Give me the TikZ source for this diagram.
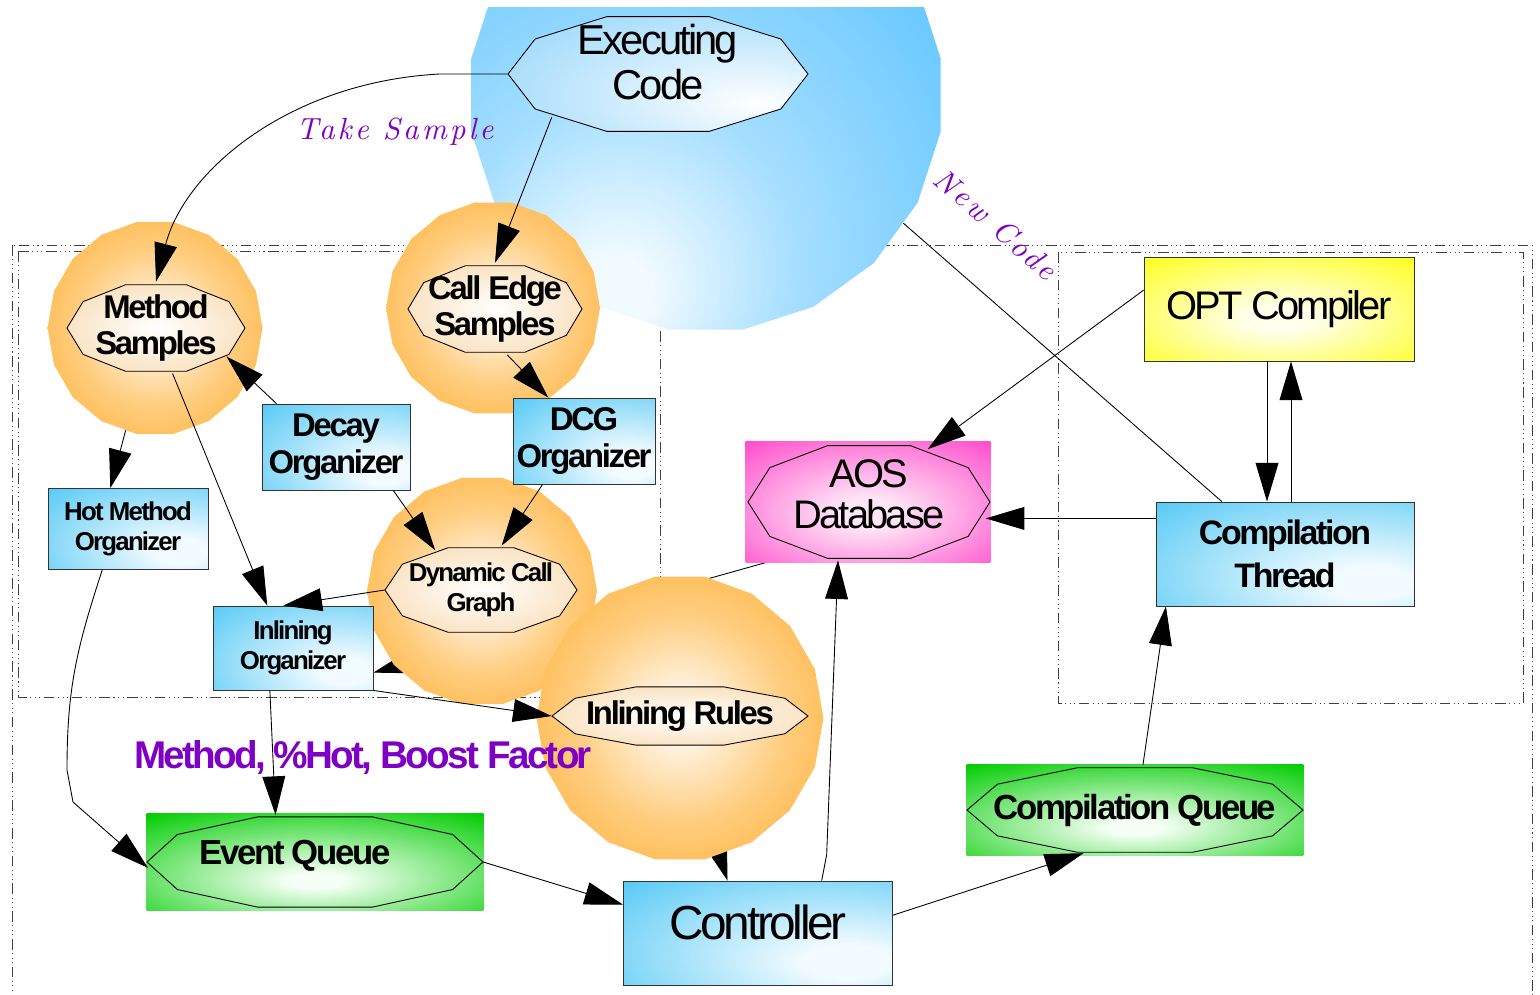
\documentclass[tikz,border=0pt]{standalone}
\usepackage{fontspec}
\setmainfont{Liberation Sans}
\newfontfamily\tightsans{Liberation Sans}[LetterSpace=-7]
\newfontfamily\scriptit{lmroman10-italic.otf}[LetterSpace=10]
\usetikzlibrary{shapes.geometric,arrows.meta,calc,backgrounds}

\definecolor{orbedge}{RGB}{255,172,44}
\definecolor{orbmid}{RGB}{255,206,130}
\definecolor{orbcore}{RGB}{255,242,224}
\definecolor{ovaltan}{RGB}{246,206,150}
\definecolor{skyedge}{RGB}{92,196,255}
\definecolor{skymid}{RGB}{165,222,255}
\definecolor{skycore}{RGB}{240,250,255}
\definecolor{skyoval}{RGB}{140,210,250}
\definecolor{boxedge}{RGB}{40,186,242}
\definecolor{boxcore}{RGB}{242,251,255}
\definecolor{aosedge}{RGB}{255,64,200}
\definecolor{aoscore}{RGB}{255,230,247}
\definecolor{queueedge}{RGB}{0,204,0}
\definecolor{queuecore}{RGB}{245,255,245}
\definecolor{optedge}{RGB}{255,255,0}
\definecolor{optcore}{RGB}{255,255,236}
\definecolor{notepurple}{RGB}{126,0,196}

% radial fills
\pgfdeclareradialshading{orangeorb}{\pgfpointorigin}{color(0bp)=(orbcore); color(5bp)=(orbcore); color(18bp)=(orbmid); color(36bp)=(orbedge); color(100bp)=(orbedge)}
\pgfdeclareradialshading{skyorb}{\pgfpoint{-10bp}{-22bp}}{color(0bp)=(skycore); color(4bp)=(skycore); color(18bp)=(skymid); color(42bp)=(skyedge); color(100bp)=(skyedge)}
\pgfdeclareradialshading{tanoval}{\pgfpointorigin}{color(0bp)=(white); color(45bp)=(ovaltan); color(100bp)=(ovaltan)}
\pgfdeclareradialshading{skyovalfill}{\pgfpoint{17bp}{-13bp}}{color(0bp)=(white); color(50bp)=(skyoval); color(100bp)=(skyoval)}
\pgfdeclareradialshading{bluebox}{\pgfpoint{18bp}{-15bp}}{color(0bp)=(boxcore); color(8bp)=(boxcore); color(60bp)=(boxedge); color(100bp)=(boxedge)}
\pgfdeclareradialshading{pinkbox}{\pgfpoint{0bp}{-5bp}}{color(0bp)=(aoscore); color(6bp)=(aoscore); color(40bp)=(aosedge); color(100bp)=(aosedge)}
\pgfdeclareradialshading{greenbox}{\pgfpoint{0bp}{-10bp}}{color(0bp)=(queuecore); color(4bp)=(queuecore); color(40bp)=(queueedge); color(100bp)=(queueedge)}
\pgfdeclareradialshading{yellowbox}{\pgfpoint{0bp}{-5bp}}{color(0bp)=(optcore); color(6bp)=(optcore); color(42bp)=(optedge); color(100bp)=(optedge)}

\tikzset{
  flow/.style={-{Triangle[length=22pt,width=13pt]},line width=0.5pt},
  plain/.style={line width=0.5pt},
  groupbox/.style={line width=0.5pt,black!75,
    dash pattern=on 6pt off 2pt on 0.6pt off 2pt on 0.6pt off 2pt on 0.6pt off 2pt},
  orb/.style={regular polygon,regular polygon sides=18,shading=orangeorb,inner sep=0pt},
  facet/.style={draw=black,line width=0.5pt},
  procbox/.style={rectangle,draw=black!80,line width=0.5pt,shading=bluebox,align=center,inner sep=0pt},
  fillbox/.style={rectangle,shading=#1,inner sep=0pt},
  execfont/.style={font=\tightsans\fontsize{23.8}{25.5}\selectfont},
  plainfont/.style={font=\tightsans\fontsize{22.7}{23.2}\selectfont},
  ctrlfont/.style={font=\tightsans\fontsize{27.2}{30}\selectfont},
  orbfont/.style={font=\tightsans\bfseries\fontsize{18.7}{21}\selectfont},
  smallfont/.style={font=\tightsans\bfseries\fontsize{14.7}{17.2}\selectfont},
  threadfont/.style={font=\tightsans\bfseries\fontsize{19.3}{24.4}\selectfont},
  queuefont/.style={font=\tightsans\bfseries\fontsize{19.8}{22}\selectfont},
  hotfont/.style={font=\tightsans\bfseries\fontsize{22}{24}\selectfont,text=notepurple},
  notefont/.style={font=\scriptit\fontsize{17.4}{20}\selectfont,text=notepurple}
}

% faceted oval: name, centre, x radius, y radius (px), fill, text style, text
\newcommand{\facetoval}[7]{%
  \path[facet,#5,shift={#2}] (0:#3 and #4)
    \foreach \a in {35,70,110,145,180,215,250,290,325} { -- (\a:#3 and #4) } -- cycle;
  \node[ellipse,inner sep=0pt,minimum width=#3*0.04cm,minimum height=#4*0.04cm] (#1) at #2 {};
  \node[align=center,#6] (#1-text) at #2 {#7};
}

\begin{document}
\begin{tikzpicture}[x=0.02cm,y=-0.02cm]
\useasboundingbox (0,0) rectangle (1540,994);
\clip (0,7) rectangle (1540,994);

% running program
\node[orb,regular polygon sides=20,shading=skyorb,minimum size=9.5cm] (execorb) at (706,95) {};
\facetoval{exec}{(658,74)}{150}{61}{shading=skyovalfill}{execfont,yshift=0.24cm}{Executing\\Code}

% samples and call graph
\node[orb,minimum size=4.3cm] (msorb) at (155,328) {};
\facetoval{ms}{(156,328)}{89}{46}{shading=tanoval}{orbfont}{Method\\Samples}
\node[orb,minimum size=4.28cm] (cesorb) at (493,308) {};
\facetoval{ces}{(495,309)}{87}{46}{shading=tanoval}{orbfont}{Call Edge\\Samples}
\node[orb,minimum size=4.6cm] (dcgorb) at (482,591) {};
\facetoval{dcg}{(481,590)}{96}{45}{shading=tanoval}{smallfont}{Dynamic Call\\Graph}
\node[orb,minimum size=5.74cm] (rulesorb) at (680,718) {};
\facetoval{rules}{(680,716)}{128}{31}{shading=tanoval}{orbfont}{Inlining Rules}

% organizers
\node[procbox,orbfont,minimum width=2.96cm,minimum height=1.72cm] (decay) at (336,447) {Decay\\Organizer};
\node[procbox,orbfont,minimum width=2.84cm,minimum height=1.72cm] (dcgorg) at (584,441) {DCG\\Organizer};
\node[procbox,smallfont,minimum width=3.2cm,minimum height=1.62cm] (hotorg) at (128,529) {Hot Method\\Organizer};
\node[procbox,smallfont,minimum width=3.2cm,minimum height=1.68cm] (inlorg) at (293,648) {Inlining\\Organizer};

% database and queues
\node[fillbox=pinkbox,minimum width=4.9cm,minimum height=2.44cm] (aosbox) at (868,502) {};
\facetoval{aos}{(869,502)}{121}{60}{}{plainfont,yshift=0.16cm}{AOS\\Database}
\node[fillbox=greenbox,minimum width=6.74cm,minimum height=1.94cm] (evqbox) at (315,862) {};
\facetoval{evq}{(315,862)}{168}{48}{}{queuefont,xshift=-0.4cm,yshift=0.12cm}{Event Queue}
\node[fillbox=greenbox,minimum width=6.74cm,minimum height=1.82cm] (cqbox) at (1135,810) {};
\facetoval{cq}{(1135,810)}{168}{45}{}{queuefont}{Compilation Queue}

% controller and compiler
\node[procbox,ctrlfont,minimum width=5.38cm,minimum height=2.08cm,text depth=0.44cm] (ctrl) at (758,933) {Controller};
\node[procbox,threadfont,minimum width=5.16cm,minimum height=2.08cm] (thread) at (1285,554) {Compilation\\Thread};
\node[procbox,shading=yellowbox,plainfont,minimum width=5.4cm,minimum height=2.08cm] (opt) at (1279,309) {OPT Compiler};

\begin{pgfonlayer}{background}
  \draw[groupbox] (12,245) rectangle (1532,1010);
  \draw[groupbox] (18,251) rectangle (660,697);
  \draw[groupbox] (1058,252) rectangle (1523,703);
  % these run under the orbs
  \draw[flow] (aos.-143) -- ($(inlorg.north east)!0.79!(inlorg.south east)$);
  \draw[flow] (rules.-80) -- ($(ctrl.north west)!0.387!(ctrl.north east)$);
  \draw[plain] ($(thread.north west)!0.256!(thread.north east)$) -- (execorb.-33);
\end{pgfonlayer}

\draw[flow] (exec.west) -- ++(-68,0) .. controls (290,82) and (185,170) .. (ms.north);
\draw[flow] (exec.south west) -- (ces.north);
\draw[flow] (ces.-75) -- ($(dcgorg.north west)!0.25!(dcgorg.north east)$);
\draw[flow] ($(decay.north west)!0.1!(decay.north east)$) -- (ms.-22);
\draw[flow] (ms.-70) -- ($(inlorg.north west)!0.34!(inlorg.north east)$);
\draw[flow] (msorb.-106) -- ($(hotorg.north west)!0.39!(hotorg.north east)$);
\draw[flow] ($(decay.south west)!0.885!(decay.south east)$) -- (dcg.139);
\draw[flow] ($(dcgorg.south west)!0.21!(dcgorg.south east)$) -- (dcg.65);
\draw[flow] (dcg.west) -- ($(inlorg.north west)!0.44!(inlorg.north east)$);
\draw[flow] (inlorg.south east) -- (rules.west);
\draw[flow] ($(hotorg.south west)!0.34!(hotorg.south east)$) .. controls (76,650) and (67,690) .. (67,770) -- (73,802) -- (evq.182);
\draw[flow] ($(inlorg.south west)!0.356!(inlorg.south east)$) -- (evq.130);
\draw[flow] (evq.east) -- ($(ctrl.north west)!0.23!(ctrl.south west)$);
\draw[flow] ($(ctrl.north west)!0.736!(ctrl.north east)$) -- ++(5,-26) -- (aos.-118);
\draw[flow] ($(ctrl.north east)!0.33!(ctrl.south east)$) -- (cq.-140);
\draw[flow] (cq.80) -- ($(thread.south west)!0.04!(thread.south east)$);
\draw[flow] (thread.west |- aos.-8) -- (aos.-8);
\draw[flow] ([xshift=-0.24cm]opt.south) -- ([xshift=-0.24cm]opt.south |- thread.north);
\draw[flow] ([xshift=0.24cm]opt.south |- thread.north) -- ([xshift=0.24cm]opt.south);
\draw[flow] ($(opt.north west)!0.32!(opt.south west)$) -- (aos.42);

% labels
\node[notefont] (takesample) at (395,132) {Take Sample};
\node[notefont,rotate=-41] (newcode) at (996,224) {New Code};
\node[hotfont,anchor=base] (hotnote) at (363,768) {Method, \%Hot, Boost Factor};
\end{tikzpicture}
\end{document}
